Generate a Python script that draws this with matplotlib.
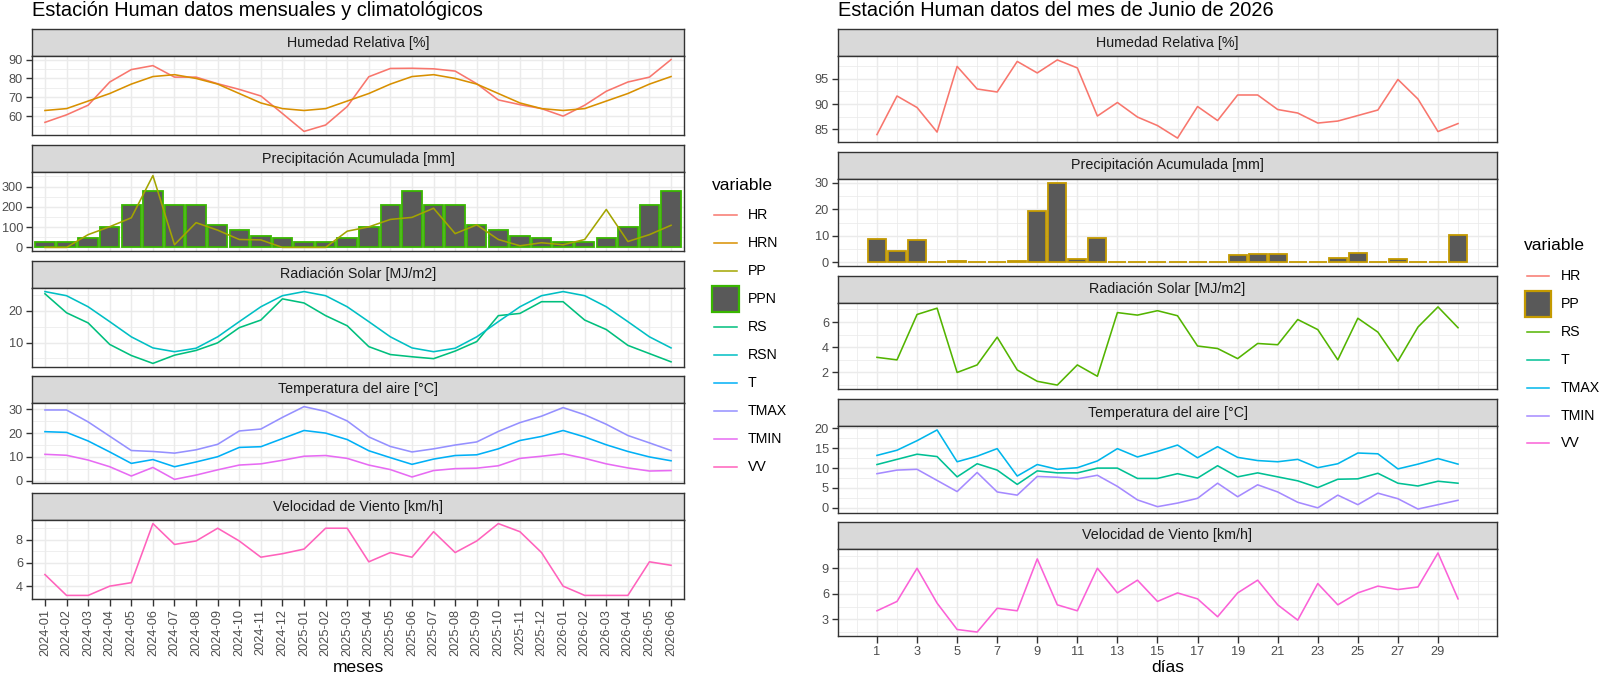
import matplotlib
matplotlib.use("Agg")
import matplotlib.pyplot as plt
import numpy as np
from matplotlib.patches import Rectangle
from matplotlib.lines import Line2D

plt.rcParams['font.family'] = ['Liberation Sans', 'DejaVu Sans']

W, H = 1600, 676

# ---- datos mensuales (izquierda)
meses = ['2024-01', '2024-02', '2024-03', '2024-04', '2024-05', '2024-06', '2024-07', '2024-08',
         '2024-09', '2024-10', '2024-11', '2024-12', '2025-01', '2025-02', '2025-03', '2025-04',
         '2025-05', '2025-06', '2025-07', '2025-08', '2025-09', '2025-10', '2025-11', '2025-12',
         '2026-01', '2026-02', '2026-03', '2026-04', '2026-05', '2026-06']

hr = [56.7, 60.7, 65.8, 78.1, 84.7, 86.8, 80.7, 80.7, 77.2, 74.2, 70.7, 61.4, 51.9, 55.3, 65.1,
      80.9, 85.3, 85.4, 85.1, 83.9, 77.2, 68.6, 66.1, 64.0, 60.0, 65.8, 73.2, 78.1, 80.7, 90.0]
hrn = [63, 64, 68, 72, 77, 81, 82, 80, 77, 72, 67, 64, 63, 64, 68, 72, 77, 81, 82, 80, 77, 72, 67, 64,
       63, 64, 68, 72, 77, 81]
pp = [0, 0, 63, 102, 146, 354, 13, 122, 85, 39, 37, 0, 0, 0, 80, 101, 138, 148, 193, 68, 111, 39,
      8, 23, 13, 39, 187, 29, 63, 109]
ppn = [29, 29, 44, 100, 208, 280, 208, 208, 112, 88, 58, 44, 29, 29, 44, 100, 208, 280, 208, 208,
       112, 88, 58, 44, 29, 29, 44, 100, 208, 280]
rs = [25.4, 19.4, 16.2, 9.4, 5.9, 3.4, 6.0, 7.5, 9.9, 14.7, 17.1, 23.8, 22.5, 18.5, 15.3, 8.7, 6.2,
      5.5, 4.9, 7.3, 10.3, 18.5, 19.2, 22.9, 22.9, 17.1, 14.1, 9.1, 6.5, 3.9]
rsn = [26.1, 24.8, 21.3, 16.6, 11.8, 8.3, 7.1, 8.2, 11.8, 16.6, 21.3, 24.8, 26.1, 24.8, 21.3, 16.6,
       11.8, 8.3, 7.1, 8.2, 11.8, 16.6, 21.3, 24.8, 26.1, 24.8, 21.3, 16.6, 11.8, 8.3]
tmed = [20.6, 20.3, 16.7, 12.1, 7.3, 8.9, 5.9, 7.9, 10.1, 14.0, 14.3, 17.7, 21.1, 20.0, 17.3, 12.6,
        9.7, 6.9, 9.1, 10.6, 10.9, 13.4, 16.9, 18.6, 21.1, 18.4, 15.1, 12.3, 10.0, 8.4]
tmax = [29.7, 29.7, 24.7, 18.7, 12.7, 12.3, 11.6, 13.0, 15.3, 20.9, 21.7, 26.6, 31.1, 29.1, 25.1,
        18.4, 14.4, 12.1, 13.4, 15.0, 16.3, 20.7, 24.4, 27.1, 30.7, 27.7, 23.7, 19.0, 15.9, 12.7]
tmin = [11.1, 10.7, 8.7, 5.9, 2.0, 5.6, 0.6, 2.4, 4.6, 6.6, 7.1, 8.6, 10.3, 10.6, 9.4, 6.6, 4.7,
        1.6, 4.3, 5.1, 5.3, 6.3, 9.4, 10.3, 11.3, 9.4, 7.1, 5.4, 4.1, 4.3]
vv = [5.0, 3.2, 3.2, 4.0, 4.3, 9.4, 7.6, 7.9, 9.0, 7.9, 6.5, 6.8, 7.2, 9.0, 9.0, 6.1, 6.9, 6.5, 8.7,
      6.9, 7.9, 9.4, 8.7, 6.9, 4.0, 3.2, 3.2, 3.2, 6.1, 5.8]

# ---- datos diarios junio 2026 (derecha)
dias = list(range(1, 31))
hrDia = [83.9, 91.6, 89.3, 84.4, 97.5, 93.0, 92.4, 98.5, 96.2, 98.8, 97.2, 87.6, 90.3, 87.4, 85.7,
         83.2, 89.5, 86.7, 91.8, 91.8, 88.9, 88.2, 86.2, 86.6, 87.7, 88.8, 94.9, 91.0, 84.5, 86.1]
ppDia = [8.8, 4.1, 8.5, 0.1, 0.5, 0.1, 0.1, 0.5, 19.2, 30.0, 1.3, 9.1, 0.1, 0.1, 0.2, 0.1, 0.1, 0.1,
         2.7, 3.2, 3.0, 0.1, 0.2, 1.5, 3.4, 0.1, 1.2, 0.2, 0.2, 10.2]
rsDia = [3.2, 3.0, 6.6, 7.1, 2.0, 2.6, 4.8, 2.2, 1.3, 1.0, 2.6, 1.7, 6.75, 6.55, 6.9, 6.5, 4.1, 3.9,
         3.1, 4.3, 4.2, 6.2, 5.4, 3.0, 6.3, 5.2, 2.9, 5.6, 7.2, 5.55]
tDia = [10.9, 12.2, 13.5, 12.9, 7.8, 11.1, 9.5, 5.9, 9.3, 8.8, 8.8, 10.0, 10.0, 7.4, 7.4, 8.6, 7.5,
        10.6, 7.8, 8.8, 7.8, 6.8, 5.1, 7.2, 7.3, 8.7, 6.2, 5.5, 6.7, 6.2]
tmaxDia = [13.2, 14.5, 16.9, 19.6, 11.6, 13.0, 14.9, 8.0, 10.9, 9.7, 10.1, 11.8, 14.9, 12.8, 14.2,
           15.8, 12.6, 15.4, 12.7, 11.9, 11.6, 12.2, 10.1, 11.1, 13.8, 13.6, 9.8, 11.0, 12.4, 11.0]
tminDia = [8.6, 9.5, 9.7, 6.9, 4.1, 8.9, 4.0, 3.2, 7.9, 7.7, 7.3, 8.2, 5.4, 2.0, 0.3, 1.2, 2.4, 6.2,
           2.8, 5.8, 4.0, 1.4, 0.0, 3.2, 0.8, 3.7, 2.3, -0.3, 0.8, 1.9]
vvDia = [4.0, 5.1, 9.0, 4.9, 1.8, 1.5, 4.3, 4.0, 10.1, 4.7, 4.0, 9.0, 6.1, 7.6, 5.1, 6.1, 5.4, 3.3,
         6.1, 7.6, 4.7, 2.9, 7.2, 4.7, 6.1, 6.9, 6.5, 6.8, 10.8, 5.4]

colIzq = {'HR': '#F8766D', 'HRN': '#D89000', 'PP': '#A3A500', 'PPN': '#39B600', 'RS': '#00BF7D',
          'RSN': '#00BFC4', 'T': '#00B0F6', 'TMAX': '#9590FF', 'TMIN': '#E76BF3', 'VV': '#FF62BC'}
colDer = {'HR': '#F8766D', 'PP': '#C49A00', 'RS': '#53B400', 'T': '#00C094', 'TMAX': '#00B6EB',
          'TMIN': '#A58AFF', 'VV': '#FB61D7'}

titulos = ['Humedad Relativa [%]', 'Precipitación Acumulada [mm]', 'Radiación Solar [MJ/m2]',
           'Temperatura del aire [°C]', 'Velocidad de Viento [km/h]']

BORDER = '#333333'
GRID = '#EBEBEB'
BARFILL = '#595959'

fig = plt.figure(figsize=(W / 100, H / 100), dpi=100)


def box(x0, y0, x1, y1):
    return [x0 / W, 1 - y1 / H, (x1 - x0) / W, (y1 - y0) / H]


def limits(vals):
    lo, hi = min(vals), max(vals)
    pad = (hi - lo) * 0.05
    return lo - pad, hi + pad


def faceta(x0, x1, top, bot, titulo, xlim, ylim, yticks, xmajor, xminor, showx):
    sax = fig.add_axes(box(x0, top, x1, top + 27))
    sax.set_facecolor('#D9D9D9')
    sax.set_xticks([])
    sax.set_yticks([])
    for s in sax.spines.values():
        s.set_color(BORDER)
        s.set_linewidth(1.0)
    sax.text(0.5, 0.5, titulo, ha='center', va='center', fontsize=10.3, color='#1A1A1A',
             transform=sax.transAxes)
    ax = fig.add_axes(box(x0, top + 27, x1, bot))
    ax.set_xlim(xlim)
    ax.set_ylim(ylim)
    ax.set_xticks(xmajor)
    ax.set_xticks(xminor, minor=True)
    ax.set_yticks(yticks)
    step = yticks[1] - yticks[0]
    ymin = [v for v in np.arange(yticks[0] - step, yticks[-1] + 1.5 * step, step / 2)
            if ylim[0] <= v <= ylim[1] and not np.any(np.isclose(v, yticks))]
    ax.set_yticks(ymin, minor=True)
    ax.grid(which='major', color=GRID, lw=1.07)
    ax.grid(which='minor', color=GRID, lw=0.55)
    ax.set_axisbelow(True)
    for s in ax.spines.values():
        s.set_color(BORDER)
        s.set_linewidth(1.0)
    ax.tick_params(which='major', length=4.3, width=1.0, color=BORDER, labelsize=9.2,
                   labelcolor='#4D4D4D', pad=2.2)
    ax.tick_params(axis='x', which='major', length=5.0)
    ax.tick_params(which='minor', length=0)
    if not showx:
        ax.tick_params(axis='x', which='major', length=0, labelbottom=False)
    return ax


# ---- panel izquierdo
xm = np.arange(1, len(meses) + 1)
L0, L1 = 32, 684
topsL = [29, 145, 261, 376, 493]
botsL = [135, 251, 367, 483, 599]
xlimL = (0.4, len(meses) + 0.6)

seriesL = [[('HR', hr), ('HRN', hrn)],
           [('PP', pp)],
           [('RS', rs), ('RSN', rsn)],
           [('T', tmed), ('TMAX', tmax), ('TMIN', tmin)],
           [('VV', vv)]]
yticksL = [[60, 70, 80, 90], [0, 100, 200, 300], [10, 20], [0, 10, 20, 30], [4, 6, 8]]

for i in range(5):
    vals = [v for _, s in seriesL[i] for v in s]
    if i == 1:
        vals = vals + ppn + [0]
    ax = faceta(L0, L1, topsL[i], botsL[i], titulos[i], xlimL, limits(vals), yticksL[i],
                xm, [], i == 4)
    if i == 1:
        ax.bar(xm, ppn, width=0.9, color=BARFILL, edgecolor=colIzq['PPN'], lw=1.3, zorder=2)
    for nombre, s in seriesL[i]:
        ax.plot(xm, s, color=colIzq[nombre], lw=1.15, zorder=3)
    if i == 4:
        ax.set_xticklabels(meses, rotation=90, fontsize=9.2)

fig.text(L0 / W, 1 - 16 / H, 'Estación Human datos mensuales y climatológicos', fontsize=14.4,
         ha='left', va='baseline', color='black')
fig.text((L0 + L1) / 2 / W, 1 - 668 / H, 'meses', fontsize=12.5, ha='center', va='center')

# ---- panel derecho
R0, R1 = 838, 1497
topsR = [29, 152, 276, 399, 522]
botsR = [142, 266, 389, 513, 636]
xlimR = (-0.945, 31.945)

seriesR = [[('HR', hrDia)],
           [],
           [('RS', rsDia)],
           [('T', tDia), ('TMAX', tmaxDia), ('TMIN', tminDia)],
           [('VV', vvDia)]]
yticksR = [[85, 90, 95], [0, 10, 20, 30], [2, 4, 6], [0, 5, 10, 15, 20], [3, 6, 9]]
xmajR = list(range(1, 30, 2))
xminR = list(range(0, 32, 2)) + [31]

for i in range(5):
    vals = [v for _, s in seriesR[i] for v in s]
    if i == 1:
        vals = ppDia + [0]
    ax = faceta(R0, R1, topsR[i], botsR[i], titulos[i], xlimR, limits(vals), yticksR[i],
                xmajR, xminR, i == 4)
    if i == 1:
        ax.bar(dias, ppDia, width=0.9, color=BARFILL, edgecolor=colDer['PP'], lw=1.3, zorder=2)
    for nombre, s in seriesR[i]:
        ax.plot(dias, s, color=colDer[nombre], lw=1.15, zorder=3)

fig.text(R0 / W, 1 - 16 / H, 'Estación Human datos del mes de Junio de 2026', fontsize=14.4,
         ha='left', va='baseline', color='black')
fig.text((R0 + R1) / 2 / W, 1 - 668 / H, 'días', fontsize=12.5, ha='center', va='center')


# ---- leyendas
def leyenda(tx, ty, k0, k1, lx, y0, dy, items, cols, barItem):
    fig.text(tx / W, 1 - ty / H, 'variable', fontsize=12.5, ha='left', va='center')
    for j, nombre in enumerate(items):
        yc = y0 + j * dy
        if nombre == barItem:
            fig.patches.append(Rectangle(((k0 - 2) / W, 1 - (yc + 13) / H), (k1 - k0 + 4) / W, 26 / H,
                                         facecolor=BARFILL, edgecolor=cols[nombre], lw=1.6,
                                         transform=fig.transFigure))
        else:
            fig.lines.append(Line2D([k0 / W, k1 / W], [1 - yc / H, 1 - yc / H], color=cols[nombre],
                                    lw=1.1, transform=fig.transFigure))
        fig.text(lx / W, 1 - yc / H, nombre, fontsize=10.2, ha='left', va='center')


leyenda(712, 185, 714, 737, 748, 215, 28, list(colIzq.keys()), colIzq, 'PPN')
leyenda(1524, 246, 1527, 1549, 1561, 276, 27.9, list(colDer.keys()), colDer, 'PP')

fig.savefig('out.png', dpi=100)
